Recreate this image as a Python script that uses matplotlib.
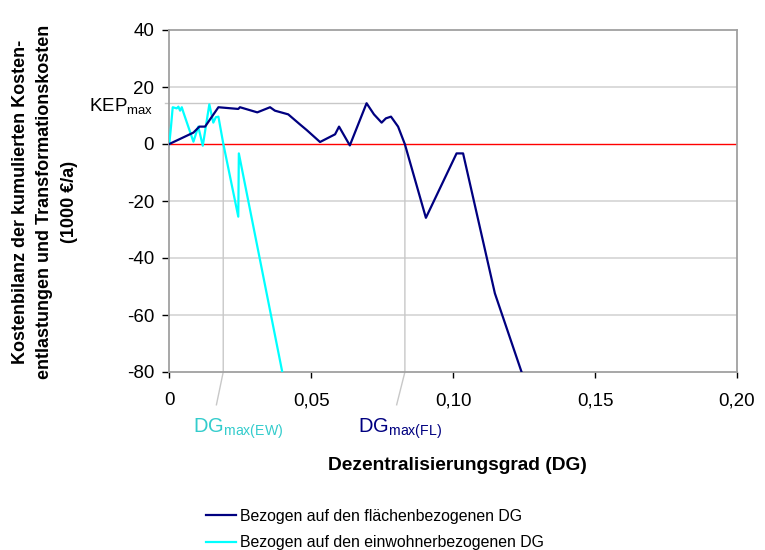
import numpy as np
import matplotlib as mpl
mpl.use('Agg')
import matplotlib.pyplot as plt

mpl.rcParams['font.family'] = 'Liberation Sans'
mpl.rcParams['mathtext.fontset'] = 'custom'
mpl.rcParams['mathtext.rm'] = 'Liberation Sans'
mpl.rcParams['mathtext.it'] = 'Liberation Sans'
mpl.rcParams['axes.unicode_minus'] = False

# Kostenbilanz, flaechenbezogener DG
dg_fl = [0, 0.0085, 0.0106, 0.0126, 0.0173, 0.0243, 0.0249, 0.0310, 0.0355, 0.0372,
         0.0419, 0.0460, 0.0484, 0.0531, 0.0584, 0.0598, 0.0636, 0.0695, 0.0721, 0.0748,
         0.0763, 0.0781, 0.0806, 0.0830, 0.0904, 0.1012, 0.1035, 0.1147, 0.1241]
kb_fl = [0, 4.0, 6.1, 6.1, 12.9, 12.3, 12.9, 11.1, 12.9, 11.7,
         10.4, 6.9, 4.9, 0.7, 3.4, 6.1, -0.5, 14.3, 10.4, 7.5,
         9.0, 9.6, 6.1, -0.1, -25.9, -3.3, -3.3, -52.4, -80]

# Kostenbilanz, einwohnerbezogener DG
dg_ew = [0, 0.0006, 0.0012, 0.0026, 0.0032, 0.0038, 0.0044, 0.0049, 0.0085, 0.0102,
         0.0118, 0.0141, 0.0155, 0.0164, 0.0173, 0.0190, 0.0243, 0.0245, 0.0398]
kb_ew = [0, 6.1, 12.9, 12.5, 13.1, 11.7, 12.9, 11.3, 0.8, 6.1,
         -0.6, 13.9, 7.5, 9.4, 9.6, 0.2, -25.5, -3.3, -80]

kep_max = 14.3
dg_kep = 0.0695
dg_max_ew = 0.0190
dg_max_fl = 0.0830

xticks = [0, 0.05, 0.10, 0.15, 0.20]
xticklabels = ['0', '0,05', '0,10', '0,15', '0,20']
yticks = [-80, -60, -40, -20, 0, 20, 40]
yticklabels = ['-80', '-60', '-40', '-20', '0', '20', '40']

fig = plt.figure(figsize=(7.65, 5.5), dpi=100)
ax = fig.add_axes([169.3/765, 1-372/550, (737-169.3)/765, (372-30)/550])

ax.set_xlim(0, 0.20)
ax.set_ylim(-80, 40)

# Gitterlinien
for y in [20, -20, -40, -60]:
    ax.axhline(y, color='#d4d4d4', lw=1.2, zorder=1)
ax.axhline(0, color='#ff0000', lw=1.0, zorder=2)

# Hilfslinien KEPmax und DGmax
gc = '#c8c8c8'
ax.plot([-0.0015, dg_kep], [kep_max, kep_max], color=gc, lw=1.0, zorder=1, clip_on=False)
ax.plot([dg_max_ew, dg_max_ew, 0.0166], [0, -80, -91.5], color=gc, lw=1.0, zorder=1, clip_on=False)
ax.plot([dg_max_fl, dg_max_fl, 0.0801], [0, -80, -91.5], color=gc, lw=1.0, zorder=1, clip_on=False)

l1, = ax.plot(dg_fl, kb_fl, color='#000080', lw=1.6, zorder=4,
              label='Bezogen auf den flächenbezogenen DG')
l2, = ax.plot(dg_ew, kb_ew, color='#00ffff', lw=1.6, zorder=3,
              label='Bezogen auf den einwohnerbezogenen DG')

for s in ax.spines.values():
    s.set_color('#a0a0a0')
    s.set_linewidth(1.3)

ax.set_xticks(xticks)
ax.set_xticklabels(xticklabels)
ax.set_yticks(yticks)
ax.set_yticklabels(yticklabels)
ax.tick_params(axis='y', direction='out', length=5, width=1, color='black', pad=6, labelsize=13.5)
ax.tick_params(axis='x', direction='out', length=4, width=1, color='black', pad=10.5, labelsize=13.5)

ax.text(-0.0057, 13.3, r'$\mathrm{KEP}_{\mathrm{max}}$', ha='right', va='center',
        fontsize=13.5, clip_on=False)
ax.text(0.0083, -101.4, r'$\mathrm{DG}_{\mathrm{max(EW)}}$', ha='left', va='baseline',
        fontsize=14.5, color='#33cccc', clip_on=False)
ax.text(0.0664, -101.4, r'$\mathrm{DG}_{\mathrm{max(FL)}}$', ha='left', va='baseline',
        fontsize=14.5, color='#000080', clip_on=False)

fig.text(457/765, 1-465/550, 'Dezentralisierungsgrad (DG)', ha='center', va='center',
         fontsize=13.8, fontweight='bold')
fig.text(45/765, 1-202/550,
         'Kostenbilanz der kumulierten Kosten-\nentlastungen und Transformationskosten\n(1000 €/a)',
         ha='center', va='center', rotation=90, fontsize=13, fontweight='bold',
         multialignment='center', linespacing=1.55)

fig.legend(handles=[l1, l2], loc='upper left', bbox_to_anchor=(206/765, 1-509/550),
           frameon=False, fontsize=11.4, handlelength=1.9, handletextpad=0.25,
           labelspacing=0.72, borderpad=0, borderaxespad=0)

fig.savefig('out.png', dpi=100)
